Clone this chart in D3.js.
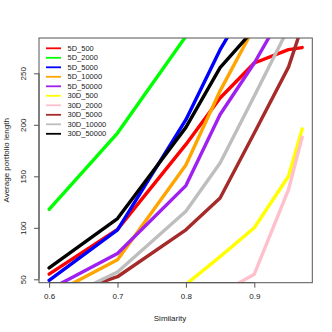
<!DOCTYPE html>
<html>
<head>
<meta charset="utf-8">
<script src="https://cdn.jsdelivr.net/npm/d3@7"></script>
<style>
  body { margin: 0; background: #fff; }
  svg text { font-family: "Liberation Sans", Arial, sans-serif; fill: #222; }
</style>
</head>
<body>
<div id="chart"></div>
<script>
// similarity thresholds (x) shared by all series
const simX = [0.6, 0.7, 0.8, 0.85, 0.9, 0.95, 0.97];

// average portfolio length per series (null = not shown)
const s5D_500    = [55, 98.5, 181, 226, 260, 273, 275];
const s5D_2000   = [118, 192, 286, null, null, null, null];
const s5D_5000   = [49, 98, 205, 273, 329, null, null];
const s5D_10000  = [34, 69, 161, 233, 295, null, null];
const s5D_50000  = [40, 75, 141, 210, 260, 318, null];
const s30D_500   = [null, null, 45, 72, 100, 150, 196];
const s30D_2000  = [null, null, null, 36, 55, 137, 188];
const s30D_5000  = [30, 52.5, 98, 129, 192, 256, 296];
const s30D_10000 = [25, 57, 116, 163, 228, 294, null];
const s30D_50000 = [61, 109, 197.5, 255.5, 293, null, null];

const seriesNames = ["5D_500", "5D_2000", "5D_5000", "5D_10000", "5D_50000",
                     "30D_500", "30D_2000", "30D_5000", "30D_10000", "30D_50000"];
const seriesValues = [s5D_500, s5D_2000, s5D_5000, s5D_10000, s5D_50000,
                      s30D_500, s30D_2000, s30D_5000, s30D_10000, s30D_50000];
const seriesColours = ["#ff0000", "#00ff00", "#0000ff", "#ffa500", "#a020f0",
                       "#ffff00", "#ffc0cb", "#a52a2a", "#bebebe", "#000000"];

const xTicks = [0.6, 0.7, 0.8, 0.9];
const yTicks = [50, 100, 150, 200, 250];

const width = 332, height = 332;
const plot = {left: 39, right: 312.3, top: 38, bottom: 282.7};

const svg = d3.select("#chart").append("svg")
    .attr("width", width)
    .attr("height", height);

// R-style 4% padding around data range
const xScale = d3.scaleLinear().domain([0.5852, 0.9848]).range([plot.left, plot.right]);
const yScale = d3.scaleLinear().domain([46.7, 284.3]).range([plot.bottom, plot.top]);

svg.append("clipPath").attr("id", "clip")
  .append("rect")
    .attr("x", plot.left).attr("y", plot.top)
    .attr("width", plot.right - plot.left)
    .attr("height", plot.bottom - plot.top);

const line = d3.line()
    .defined(d => d.v != null)
    .x(d => xScale(d.x))
    .y(d => yScale(d.v));

const linesG = svg.append("g").attr("clip-path", "url(#clip)");
seriesValues.forEach((vals, i) => {
    linesG.append("path")
        .datum(vals.map((v, j) => ({x: simX[j], v: v})))
        .attr("d", line)
        .attr("fill", "none")
        .attr("stroke", seriesColours[i])
        .attr("stroke-width", 3.4)
        .attr("stroke-linejoin", "round")
        .attr("stroke-linecap", "round");
});

// box
svg.append("rect")
    .attr("x", plot.left).attr("y", plot.top)
    .attr("width", plot.right - plot.left)
    .attr("height", plot.bottom - plot.top)
    .attr("fill", "none")
    .attr("stroke", "#555")
    .attr("stroke-width", 1);

// x axis
const xAxis = d3.axisBottom(xScale).tickValues(xTicks).tickSize(5).tickPadding(6)
    .tickFormat(d3.format(".1f"));
const xAxisGroup = svg.append("g")
    .attr("transform", `translate(0,${plot.bottom})`)
    .call(xAxis);
xAxisGroup.select(".domain")
    .attr("d", `M${xScale(0.6)},0H${xScale(0.9)}`);

// y axis
const yAxis = d3.axisLeft(yScale).tickValues(yTicks).tickSize(5).tickFormat(d3.format("d"));
const yAxisGroup = svg.append("g")
    .attr("transform", `translate(${plot.left},0)`)
    .call(yAxis);
yAxisGroup.select(".domain")
    .attr("d", `M0,${yScale(50)}V${yScale(250)}`);
yAxisGroup.selectAll(".tick text")
    .attr("x", 0).attr("dy", 0)
    .attr("transform", "translate(-13,0) rotate(-90)")
    .style("text-anchor", "middle");

svg.selectAll(".domain, .tick line").attr("stroke", "#555");
svg.selectAll(".tick text").style("font-size", "8px").attr("fill", "#222");

// axis labels
svg.append("text")
    .attr("x", 170)
    .attr("y", 321)
    .attr("fill", "#222")
    .style("text-anchor", "middle")
    .style("font-size", "8px")
    .text("Similarity");

svg.append("text")
    .attr("transform", `translate(9,${(plot.top + plot.bottom) / 2}) rotate(-90)`)
    .attr("fill", "#222")
    .style("text-anchor", "middle")
    .style("font-size", "8px")
    .text("Average portfolio length");

// legend
const legend = svg.append("g").attr("transform", "translate(46,48.3)");
seriesNames.forEach((name, i) => {
    const row = legend.append("g").attr("transform", `translate(0,${i * 9.5})`);
    row.append("line")
        .attr("x1", 0).attr("x2", 15)
        .attr("stroke", seriesColours[i])
        .attr("stroke-width", 1.8);
    row.append("text")
        .attr("x", 21.5)
        .attr("dy", "0.35em")
        .attr("fill", "#222")
        .style("font-size", "7.5px")
        .text(name);
});
</script>
</body>
</html>
